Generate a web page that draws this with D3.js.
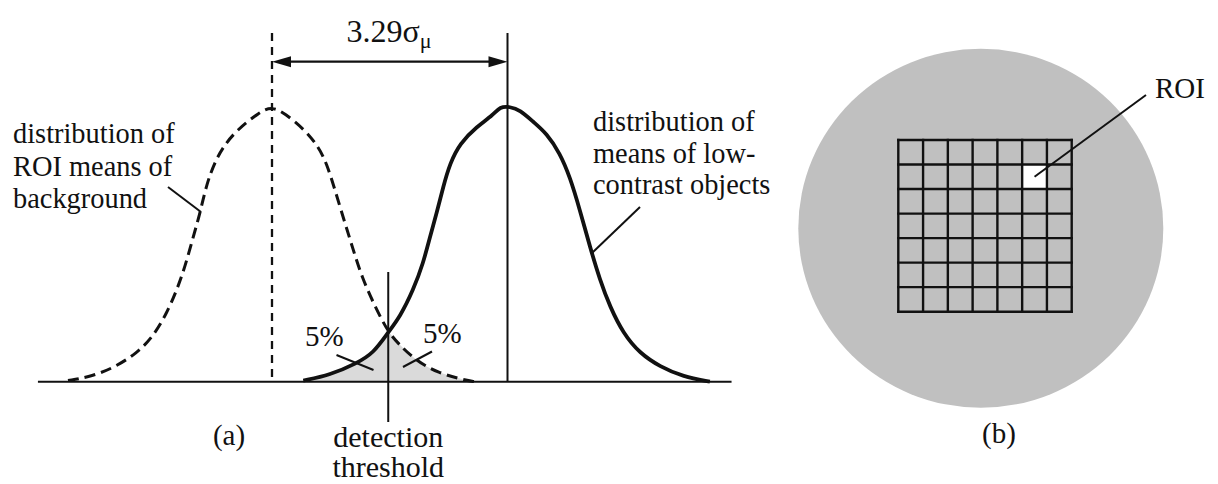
<!DOCTYPE html>
<html>
<head>
<meta charset="utf-8">
<script src="https://cdn.jsdelivr.net/npm/d3@7"></script>
<style>
  html, body { margin: 0; padding: 0; background: #fff; }
  svg { display: block; }
  text { font-family: "Liberation Serif", "Times New Roman", serif; fill: #111; }
</style>
</head>
<body>
<svg id="fig" width="1218" height="484"></svg>
<script>
// ---- (a) detection of low-contrast objects: curves in units of sigma_mu, heights relative to peak ----
const bgMean = 0;
const objMean = 3.29;
const thresholdX = 1.624;

// distribution of ROI means of background (dashed)
const bgX = [-2.85, -2.54, -2.22, -1.89, -1.66, -1.47, -1.33, -1.215, -1.10, -1.006, -0.912, -0.796, -0.68, -0.493, -0.168, 0,
             0.182, 0.461, 0.647, 0.764, 0.88, 1.02, 1.136, 1.253, 1.439, 1.624, 1.764, 1.997, 2.323, 2.696, 2.835];
const bgY = [0.004, 0.018, 0.049, 0.103, 0.164, 0.249, 0.333, 0.418, 0.527, 0.612, 0.721, 0.80, 0.855, 0.915, 0.982, 1.0,
             0.976, 0.915, 0.855, 0.794, 0.697, 0.576, 0.479, 0.382, 0.273, 0.18, 0.139, 0.079, 0.031, 0.006, 0.0];

// distribution of means of low-contrast objects (solid)
const objX = [0.437, 0.81, 1.183, 1.415, 1.624, 1.788, 1.973, 2.113, 2.207, 2.30, 2.392, 2.486, 2.626, 2.859, 3.091, 3.184,
              3.324, 3.464, 3.649, 3.837, 4.022, 4.162, 4.302, 4.441, 4.581, 4.721, 4.906, 5.14, 5.419, 5.745, 6.117];
const objY = [0.004, 0.024, 0.067, 0.103, 0.18, 0.236, 0.333, 0.431, 0.527, 0.612, 0.709, 0.794, 0.867, 0.927, 0.97, 1.0,
              1.0, 0.988, 0.945, 0.903, 0.831, 0.745, 0.624, 0.491, 0.37, 0.273, 0.176, 0.103, 0.055, 0.018, 0.0];

const axisExtent = [-3.27, 6.42];

const separationLabel = "3.29σ";
const separationSub = "μ";
const bgLabel = ["distribution of", "ROI means of", "background"];
const objLabel = ["distribution of", "means of low-", "contrast objects"];
const thresholdLabel = ["detection", "threshold"];
const tailLabels = ["5%", "5%"];
const panelLabels = ["(a)", "(b)"];

// ---- (b) phantom with a 7 x 7 grid of ROIs ----
const gridCols = 7;
const gridRows = 7;
const roiCell = [5, 1];   // [column, row] of the highlighted ROI
const roiLabel = "ROI";

const svg = d3.select("#fig");

const x = d3.scaleLinear().domain([bgMean, objMean]).range([272, 507.5]);
const y = d3.scaleLinear().domain([0, 1]).range([381.7, 106.7]);

const bgPts = bgX.map((v, i) => [v, bgY[i]]);
const objPts = objX.map((v, i) => [v, objY[i]]);

const line = d3.line().x(d => x(d[0])).y(d => y(d[1])).curve(d3.curveBasis);
const area = d3.area().x(d => x(d[0])).y0(y(0)).y1(d => y(d[1])).curve(d3.curveBasis);

const defs = svg.append("defs");
defs.append("clipPath").attr("id", "under-bg")
  .append("path").attr("d", area(bgPts));

const a = svg.append("g");

// shaded overlap: region lying under both distributions
a.append("path").attr("d", area(objPts))
  .attr("clip-path", "url(#under-bg)")
  .attr("fill", "#dadada");

// baseline
a.append("line")
  .attr("x1", x(axisExtent[0])).attr("x2", x(axisExtent[1]))
  .attr("y1", y(0)).attr("y2", y(0))
  .attr("stroke", "#111").attr("stroke-width", 2);

// mean markers
a.append("line")
  .attr("x1", x(bgMean)).attr("x2", x(bgMean)).attr("y1", 33).attr("y2", y(0))
  .attr("stroke", "#111").attr("stroke-width", 2.3).attr("stroke-dasharray", "8,6");
a.append("line")
  .attr("x1", x(objMean)).attr("x2", x(objMean)).attr("y1", 33).attr("y2", y(0))
  .attr("stroke", "#111").attr("stroke-width", 2);

// curves
a.append("path").attr("d", line(bgPts))
  .attr("fill", "none").attr("stroke", "#111").attr("stroke-width", 3)
  .attr("stroke-dasharray", "11,6");
a.append("path").attr("d", line(objPts))
  .attr("fill", "none").attr("stroke", "#111").attr("stroke-width", 3.8)
  .attr("stroke-linejoin", "round");

// threshold
a.append("line")
  .attr("x1", x(thresholdX)).attr("x2", x(thresholdX)).attr("y1", 272).attr("y2", 422)
  .attr("stroke", "#111").attr("stroke-width", 2);

// separation arrow
const arrowY = 61.7;
a.append("line")
  .attr("x1", x(bgMean) + 6).attr("x2", x(objMean) - 6).attr("y1", arrowY).attr("y2", arrowY)
  .attr("stroke", "#111").attr("stroke-width", 2.2);
const head = (tip, dir) => `M${tip},${arrowY} L${tip + dir * 19},${arrowY - 5.5} L${tip + dir * 19},${arrowY + 5.5} Z`;
a.append("path").attr("d", head(x(bgMean), 1)).attr("fill", "#111");
a.append("path").attr("d", head(x(objMean), -1)).attr("fill", "#111");

const title = a.append("text").attr("x", 346.5).attr("y", 41.5).style("font-size", "32px");
title.append("tspan").text(separationLabel);
title.append("tspan").attr("dy", 6).style("font-size", "22px").text(separationSub);

// curve labels
const addLines = (lines, x0, y0, dy, size, anchor) => {
  const t = a.append("text").attr("x", x0).attr("y", y0)
    .style("font-size", size + "px").attr("text-anchor", anchor || "start");
  lines.forEach((s, i) => t.append("tspan").attr("x", x0).attr("y", y0 + i * dy).text(s));
};
addLines(bgLabel, 13, 143, 32.5, 28.4);
addLines(objLabel, 593, 131, 31.5, 28.4);
addLines(thresholdLabel, x(thresholdX), 447, 30, 30, "middle");

const leader = (x1, y1, x2, y2, w) => a.append("line")
  .attr("x1", x1).attr("y1", y1).attr("x2", x2).attr("y2", y2)
  .attr("stroke", "#111").attr("stroke-width", w || 2);
leader(168, 187, 201, 212);
leader(640, 207, 592, 253);

// tail percentages
a.append("text").attr("x", 305).attr("y", 346).style("font-size", "29px").text(tailLabels[0]);
a.append("text").attr("x", 423).attr("y", 343).style("font-size", "29px").text(tailLabels[1]);
leader(336.5, 355, 373.5, 370);
leader(403, 367, 432, 351.5);

a.append("text").attr("x", 229).attr("y", 445).attr("text-anchor", "middle")
  .style("font-size", "29px").text(panelLabels[0]);

// ---- panel (b) ----
const b = svg.append("g");
b.append("ellipse").attr("cx", 980.8).attr("cy", 228.3).attr("rx", 182.5).attr("ry", 179.5)
  .attr("fill", "#c0c0c0");

const gx = d3.scaleLinear().domain([0, gridCols]).range([898.3, 1071.7]);
const gy = d3.scaleLinear().domain([0, gridRows]).range([140, 311.7]);

b.append("rect")
  .attr("x", gx(roiCell[0])).attr("y", gy(roiCell[1]))
  .attr("width", gx(roiCell[0] + 1) - gx(roiCell[0]))
  .attr("height", gy(roiCell[1] + 1) - gy(roiCell[1]))
  .attr("fill", "#fff");

b.selectAll("line.v").data(d3.range(gridCols + 1)).join("line")
  .attr("class", "v")
  .attr("x1", d => gx(d)).attr("x2", d => gx(d))
  .attr("y1", gy(0) - 1.2).attr("y2", gy(gridRows) + 1.2)
  .attr("stroke", "#111").attr("stroke-width", 2.4);
b.selectAll("line.h").data(d3.range(gridRows + 1)).join("line")
  .attr("class", "h")
  .attr("y1", d => gy(d)).attr("y2", d => gy(d))
  .attr("x1", gx(0) - 1.2).attr("x2", gx(gridCols) + 1.2)
  .attr("stroke", "#111").attr("stroke-width", 2.4);

const roiCx = (gx(roiCell[0]) + gx(roiCell[0] + 1)) / 2;
const roiCy = (gy(roiCell[1]) + gy(roiCell[1] + 1)) / 2;
b.append("line").attr("x1", roiCx).attr("y1", roiCy).attr("x2", 1146).attr("y2", 95)
  .attr("stroke", "#111").attr("stroke-width", 2);
b.append("text").attr("x", 1155).attr("y", 98).style("font-size", "29px").text(roiLabel);

b.append("text").attr("x", 999).attr("y", 443).attr("text-anchor", "middle")
  .style("font-size", "29px").text(panelLabels[1]);
</script>
</body>
</html>
